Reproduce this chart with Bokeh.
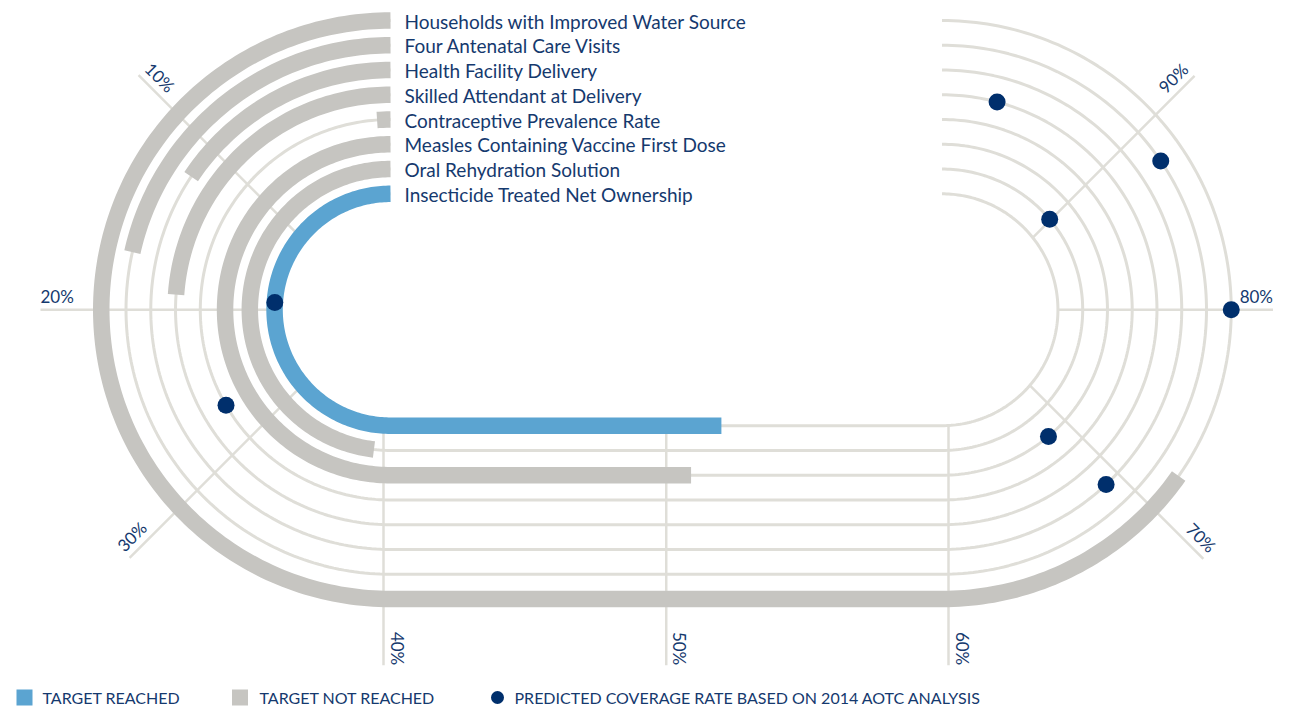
import numpy as np
from bokeh.plotting import figure
from bokeh.models import Range1d, ColumnDataSource
from bokeh.core.properties import value
from bokeh.embed import file_html
from bokeh.resources import INLINE

# ---------------- data ----------------
indicators = [
    "Households with Improved Water Source",
    "Four Antenatal Care Visits",
    "Health Facility Delivery",
    "Skilled Attendant at Delivery",
    "Contraceptive Prevalence Rate",
    "Measles Containing Vaccine First Dose",
    "Oral Rehydration Solution",
    "Insecticide Treated Net Ownership",
]
coverage = [72.2, 17.2, 12.5, 19.1, 0.9, 50.9, 38.5, 52.0]
target_reached = [False, False, False, False, False, False, False, True]
predicted = [80.0, 87.6, 69.6, 96.7, 26.7, 68.9, 88.9, 19.2]

tick_values = [10, 20, 30, 40, 50, 60, 70, 80, 90]
tick_labels = ["10%", "20%", "30%", "40%", "50%", "60%", "70%", "80%", "90%"]

legend_labels = ["TARGET REACHED", "TARGET NOT REACHED",
                 "PREDICTED COVERAGE RATE BASED ON 2014 AOTC ANALYSIS"]

# ---------------- style / geometry ----------------
NAVY = "#15396e"
DOT = "#002f6c"
BLUE = "#5ba4d1"
GREY = "#c6c5c1"
THIN = "#dfded8"
FONT = "Lato"

CXL, CXR, CY = 390.0, 941.5, 309.25
R_OUT, STEP = 289.25, 24.76
TICK_EXT = {10: 344, 20: 350, 30: 360, 40: 355.5, 50: 355.5, 60: 355.5,
            70: 361, 80: 331, 90: 344}
# small visual offset of grid lines toward the 20% / 80% side (px)
TICK_SHIFT = {10: 12.3, 20: 0, 30: 9, 40: 7, 50: 0, 60: 6.5, 70: 8.6, 80: 0, 90: 13.2}


def radius(i):
    return R_OUT - i * STEP


R_IN = radius(len(indicators) - 1)


def track_xy(pct, r):
    pct = np.atleast_1d(np.asarray(pct, float))
    x = np.empty_like(pct)
    y = np.empty_like(pct)
    left = pct <= 40
    th = pct / 40.0 * np.pi
    x[left] = CXL - r * np.sin(th[left])
    y[left] = CY - r * np.cos(th[left])
    mid = (pct > 40) & (pct < 60)
    x[mid] = CXL + (pct[mid] - 40) / 20.0 * (CXR - CXL)
    y[mid] = CY + r
    right = pct >= 60
    ph = (pct - 60) / 40.0 * np.pi
    x[right] = CXR + r * np.sin(ph[right])
    y[right] = CY + r * np.cos(ph[right])
    return x, y


def centre_dir_tan(pct):
    """centre, outward unit vector, tangent (direction of increasing pct)"""
    if pct <= 40:
        th = pct / 40.0 * np.pi
        return (CXL, CY), (-np.sin(th), -np.cos(th)), (-np.cos(th), np.sin(th))
    if pct < 60:
        return (CXL + (pct - 40) / 20.0 * (CXR - CXL), CY), (0.0, 1.0), (1.0, 0.0)
    ph = (pct - 60) / 40.0 * np.pi
    return (CXR, CY), (np.sin(ph), np.cos(ph)), (np.cos(ph), -np.sin(ph))


def path_pcts(v):
    return np.append(np.arange(0, v, 0.25), v)


p = figure(width=1276, height=707, x_range=Range1d(0, 1276), y_range=Range1d(707, 0),
           toolbar_location=None, output_backend="svg", x_axis_type=None, y_axis_type=None,
           min_border=0, min_border_left=0, min_border_right=0, min_border_top=0,
           min_border_bottom=0, outline_line_color=None, background_fill_color="white")
p.grid.visible = False

# radial grid lines and tick labels
lt = {"x": [], "y": [], "t": [], "a": []}
rt = {"x": [], "y": [], "t": [], "a": []}
for tv, tl in zip(tick_values, tick_labels):
    (cx, cy), (ux, uy), (tx, ty) = centre_dir_tan(tv)
    target_side = 20 if tv <= 40 else 80
    sgn = np.sign(target_side - tv)
    s = TICK_SHIFT[tv] * sgn
    cx, cy = cx + s * tx, cy + s * ty
    rext = TICK_EXT[tv]
    p.line([cx + R_IN * ux, cx + rext * ux], [cy + R_IN * uy, cy + rext * uy],
           line_color=THIN, line_width=2.5)
    ex, ey = cx + rext * ux, cy + rext * uy
    if tv < 40:
        dx, dy = -ux, -uy
        tgt = lt
    else:
        dx, dy = ux, uy
        tgt = rt
    upx, upy = dy, -dx
    tgt["x"].append(ex + 3 * upx)
    tgt["y"].append(ey + 3 * upy)
    tgt["t"].append(tl)
    tgt["a"].append(float(np.arctan2(-dy, dx)))

p.text(x="x", y="y", text="t", angle="a", source=ColumnDataSource(lt),
       text_align="left", text_baseline="bottom", text_color=NAVY,
       text_font=value(FONT), text_font_size="17px")
p.text(x="x", y="y", text="t", angle="a", source=ColumnDataSource(rt),
       text_align="right", text_baseline="bottom", text_color=NAVY,
       text_font=value(FONT), text_font_size="17px")

# thin track lines
for i in range(len(indicators)):
    x, y = track_xy(path_pcts(100), radius(i))
    p.line(x, y, line_color=THIN, line_width=3)

# coverage bars
for i, (v, ok) in enumerate(zip(coverage, target_reached)):
    x, y = track_xy(path_pcts(v), radius(i))
    p.line(x, y, line_color=BLUE if ok else GREY, line_width=16.5,
           line_cap="butt", line_join="round")

# predicted dots
dx_, dy_ = [], []
for i, v in enumerate(predicted):
    x, y = track_xy([v], radius(i))
    dx_.append(x[0])
    dy_.append(y[0])
p.scatter(dx_, dy_, size=17, fill_color=DOT, line_color=None)

# indicator labels
lab_y = [CY - radius(i) + 0.5 for i in range(len(indicators))]
p.text(x=[CXL + 14] * len(indicators), y=lab_y, text=indicators,
       text_align="left", text_baseline="middle", text_color=NAVY,
       text_font=value(FONT), text_font_size="19px")

# legend
LY = 697
p.scatter([24, 239.5], [LY, LY], marker="square", size=16,
          fill_color=[BLUE, GREY], line_color=None)
p.scatter([497], [LY], marker="circle", size=13, fill_color=DOT, line_color=None)
p.text(x=[42, 259, 514], y=[LY, LY, LY], text=legend_labels,
       text_align="left", text_baseline="middle", text_color=NAVY,
       text_font=value(FONT), text_font_size="16px")

open("out.html", "w").write(file_html(p, INLINE))
